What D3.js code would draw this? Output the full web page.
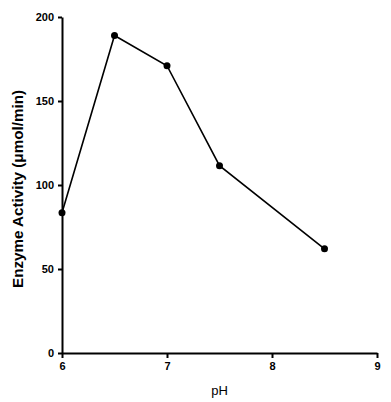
<!DOCTYPE html>
<html>
<head>
<meta charset="utf-8">
<script src="https://cdn.jsdelivr.net/npm/d3@7"></script>
<style>
  body { margin: 0; background: #fff; }
  .axis text { font-family: Arial, "Liberation Sans", sans-serif; font-weight: bold; font-size: 11px; fill: #000; }
  .axis path, .axis line { stroke: #000; stroke-width: 2px; }
</style>
</head>
<body>
<div id="chart"></div>
<script>
// data
var phValues = [6, 6.5, 7, 7.5, 8.5];
var activity = [83.5, 189, 171, 111.5, 62];
var xTicks = [6, 7, 8, 9];
var yTicks = [0, 50, 100, 150, 200];

var margin = { top: 17, right: 14, bottom: 49, left: 62 };
var width = 391 - margin.left - margin.right;
var height = 402 - margin.top - margin.bottom;

var svg = d3.select("#chart").append("svg")
    .attr("width", 391)
    .attr("height", 402)
    .append("g")
    .attr("transform", "translate(" + margin.left + "," + margin.top + ")");

var x = d3.scaleLinear().domain([6, 9]).range([0, width]);
var y = d3.scaleLinear().domain([0, 200]).range([height, 0]);

// axes
svg.append("g")
    .attr("class", "axis")
    .attr("transform", "translate(0," + height + ")")
    .call(d3.axisBottom(x).tickValues(xTicks).tickSize(5).tickSizeOuter(0).tickPadding(4).tickFormat(d3.format("d")));

svg.append("g")
    .attr("class", "axis")
    .call(d3.axisLeft(y).tickValues(yTicks).tickSize(4).tickSizeOuter(0).tickPadding(4));

// axis labels
svg.append("text")
    .attr("x", width / 2)
    .attr("y", height + 42)
    .attr("text-anchor", "middle")
    .style("font-family", "Arial, 'Liberation Sans', sans-serif")
    .style("font-size", "13px")
    .text("pH");

svg.append("text")
    .attr("transform", "translate(" + (-39) + "," + (height / 2 + 4) + ") rotate(-90)")
    .attr("text-anchor", "middle")
    .attr("textLength", 198)
    .attr("lengthAdjust", "spacingAndGlyphs")
    .style("font-family", "Arial, 'Liberation Sans', sans-serif")
    .style("font-weight", "bold")
    .style("font-size", "14px")
    .text("Enzyme Activity (\u03bcmol/min)");

var points = phValues.map(function (d, i) {
    return { ph: d, act: activity[i] };
});

var line = d3.line()
    .x(function (d) { return x(d.ph); })
    .y(function (d) { return y(d.act); });

svg.append("path")
    .datum(points)
    .attr("fill", "none")
    .attr("stroke", "#000")
    .attr("stroke-width", 1.6)
    .attr("d", line);

svg.selectAll("circle")
    .data(points)
    .enter()
    .append("circle")
    .attr("cx", function (d) { return x(d.ph); })
    .attr("cy", function (d) { return y(d.act); })
    .attr("r", 3.5)
    .attr("fill", "#000");
</script>
</body>
</html>
